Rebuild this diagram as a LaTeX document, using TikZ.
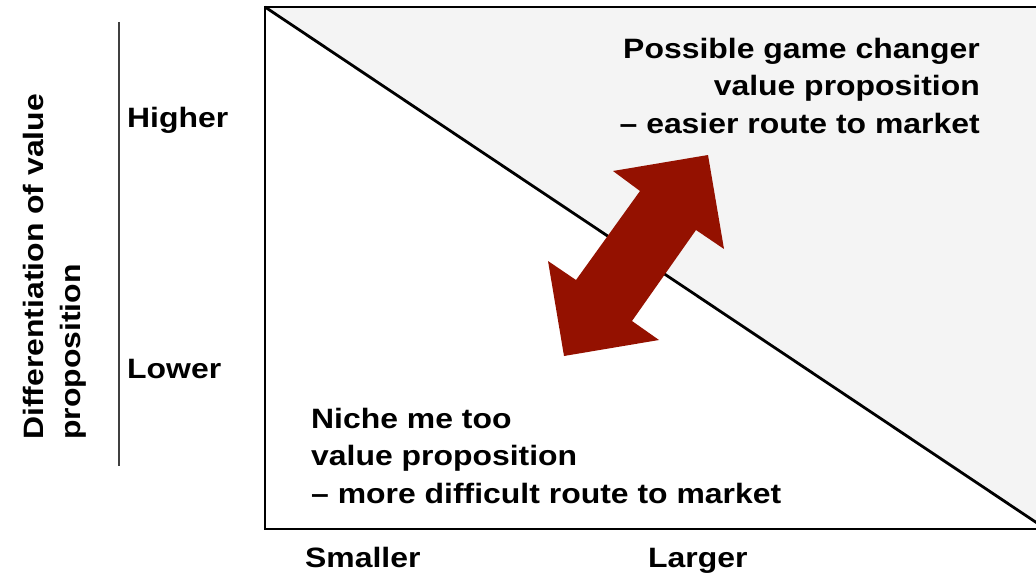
\documentclass[tikz,border=0pt]{standalone}
\usepackage{fontspec}
\setmainfont[FakeStretch=1.14]{Liberation Sans}
\definecolor{panelgray}{RGB}{244,244,244}
\definecolor{arrowred}{RGB}{148,17,0}
\begin{document}
\begin{tikzpicture}[x=1pt,y=-1pt,
  lbl/.style={font=\bfseries\fontsize{28}{37.5}\selectfont, inner sep=0pt},
  frame/.style={line width=2.8pt},
  axisline/.style={line width=1.3pt, draw=black!75}]
\useasboundingbox (0,0) rectangle (1036,578);
\begin{scope}
\clip (0,0) rectangle (1036,578);
% shaded upper triangle of the matrix
\fill[panelgray] (265,7) -- (1046,7) -- (1046,529) -- cycle;
% frame and diagonal
\coordinate (tl) at (265,7);
\coordinate (br) at (1046,529);
\draw[frame] (1046,7) -- (tl) -- (265,529) -- (br);
\draw[frame] (tl) -- (br);
\end{scope}
% double-headed block arrow
\fill[arrowred] (708,155) -- (724,249) -- (696,230) -- (632,321) -- (659,340)
  -- (564,356) -- (548,261) -- (576,280) -- (640,191) -- (613,171) -- cycle;
% vertical axis line
\coordinate (atop) at (119,22);
\coordinate (abot) at (119,466);
\draw[axisline] (atop) -- (abot);
% labels
\node[lbl, anchor=base west] (higher) at (127,127) {Higher};
\node[lbl, anchor=base west] (lower) at (127,378) {Lower};
\node[lbl, anchor=base west] (smaller) at (305,567) {Smaller};
\node[lbl, anchor=base west] (larger) at (648,567) {Larger};
\node[lbl, rotate=90, align=left, anchor=west] (yaxis) at (55,440)
  {Differentiation of value\\proposition};
\node[lbl, align=right, anchor=base east] (upper) at (980,133)
  {Possible game changer\\value proposition\\– easier route to market};
\node[lbl, align=left, anchor=base west] (niche) at (311,503)
  {Niche me too\\value proposition\\– more difficult route to market};
\end{tikzpicture}
\end{document}
